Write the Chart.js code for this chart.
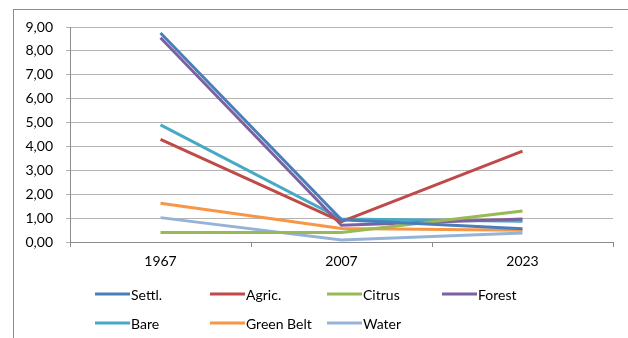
<!DOCTYPE html>
<html lang="en">
<head>
  <meta charset="UTF-8">
  <title>Land use change</title>
  <script src="https://cdn.jsdelivr.net/npm/chart.js"></script>
  <style>
    html, body { margin: 0; padding: 0; background: #fff; overflow: hidden; }
    .frame {
      position: absolute; left: 0; top: 0; width: 628px; height: 338px;
    }
    .border {
      position: absolute; left: 13px; top: 9px; width: 700px; height: 400px;
      border-left: 1px solid #8c8c8c; border-top: 1px solid #8c8c8c;
    }
    canvas { position: absolute; left: 0; top: 0; }
  </style>
</head>
<body>
  <div class="frame">
    <div class="border"></div>
    <canvas id="lineChart" width="628" height="338"></canvas>
  </div>

  <script>
    // Years on the x axis
    const years = ['1967', '2007', '2023'];

    // One array per land-use class
    const settl     = [8.75, 0.93, 0.55];
    const agric     = [4.30, 0.85, 3.80];
    const citrus    = [0.40, 0.40, 1.30];
    const forest    = [8.55, 0.70, 0.96];
    const bare      = [4.90, 0.96, 0.87];
    const greenBelt = [1.62, 0.57, 0.49];
    const water     = [1.02, 0.08, 0.38];

    const seriesNames  = ['Settl.', 'Agric.', 'Citrus', 'Forest', 'Bare', 'Green Belt', 'Water'];
    const seriesValues = [settl, agric, citrus, forest, bare, greenBelt, water];
    const seriesColors = ['#4a7ebb', '#be4b48', '#98b954', '#7d60a0', '#46aac5', '#f79646', '#95b3d7'];

    // y axis tick values
    const yTicks = [0, 1, 2, 3, 4, 5, 6, 7, 8, 9];

    const FONT = "Lato, 'Liberation Sans', sans-serif";

    // Legend laid out in fixed columns, two rows
    const legendGrid = {
      id: 'legendGrid',
      afterDraw(chart) {
        const ctx = chart.ctx;
        const colX = [95, 210, 327, 442];
        const rowY = [294, 323];
        ctx.save();
        ctx.font = '14px ' + FONT;
        ctx.textBaseline = 'middle';
        chart.data.datasets.forEach((ds, i) => {
          const x = colX[i % 4];
          const y = rowY[Math.floor(i / 4)];
          ctx.strokeStyle = ds.borderColor;
          ctx.lineWidth = 3;
          ctx.beginPath();
          ctx.moveTo(x, y);
          ctx.lineTo(x + 35, y);
          ctx.stroke();
          ctx.fillStyle = '#000';
          ctx.fillText(ds.label, x + 36, y + 1);
        });
        ctx.restore();
      }
    };

    const ctx = document.getElementById('lineChart').getContext('2d');
    new Chart(ctx, {
      type: 'line',
      data: {
        labels: years,
        datasets: seriesNames.map((name, i) => ({
          label: name,
          data: seriesValues[i],
          borderColor: seriesColors[i],
          backgroundColor: seriesColors[i],
          borderWidth: 3,
          pointRadius: 0,
          tension: 0
        }))
      },
      options: {
        responsive: false,
        animation: false,
        layout: { padding: { left: 0, right: 15, top: 27, bottom: 66 } },
        plugins: {
          legend: { display: false },
          tooltip: { enabled: false }
        },
        scales: {
          x: {
            offset: true,
            grid: {
              offset: true,
              drawOnChartArea: false,
              color: '#8c8c8c',
              tickLength: 5
            },
            border: { color: '#8c8c8c' },
            ticks: { color: '#000', font: { family: FONT, size: 14 }, padding: 6 },
            afterFit(scale) { scale.height = 30; }
          },
          y: {
            min: 0,
            max: 9,
            afterBuildTicks(scale) { scale.ticks = yTicks.map(v => ({ value: v })); },
            grid: { color: '#b4b4b4', tickLength: 4 },
            border: { color: '#8c8c8c' },
            ticks: {
              color: '#000',
              font: { family: FONT, size: 14 },
              padding: 13,
              callback: v => v.toFixed(2).replace('.', ',')
            },
            afterFit(scale) { scale.width = 70; }
          }
        }
      },
      plugins: [legendGrid]
    });
  </script>
</body>
</html>
